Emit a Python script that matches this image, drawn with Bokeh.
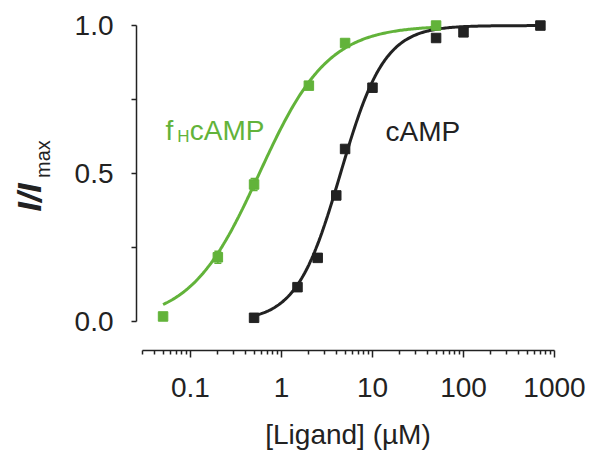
import numpy as np
from bokeh.plotting import figure
from bokeh.layouts import row
from bokeh.models import FixedTicker, Label, Range1d, ColumnDataSource, Whisker, TeeHead
from bokeh.core.properties import value
from bokeh.embed import file_html
from bokeh.resources import INLINE

# ---- data ----
fh_x = [0.05, 0.2, 0.5, 2, 5, 50]
fh_y = [0.017, 0.217, 0.463, 0.797, 0.941, 1.0]
fh_err = [0.0, 0.02, 0.02, 0.01, 0.01, 0.0]
camp_x = [0.5, 1.5, 2.5, 4, 5, 10, 50, 100, 700]
camp_y = [0.0125, 0.116, 0.215, 0.426, 0.583, 0.79, 0.958, 0.977, 1.0]

# Hill-fit parameters (EC50 in uM, Hill coefficient)
fh_ec50, fh_hill = 0.57, 1.15
camp_ec50, camp_hill = 4.45, 1.8

x_ticks = [0.1, 1, 10, 100, 1000]
x_tick_labels = ["0.1", "1", "10", "100", "1000"]
y_ticks = [0.0, 0.5, 1.0]
y_tick_labels = ["0.0", "0.5", "1.0"]
y_minor = [0.25, 0.75]

GREEN = "#62b33a"
DARK = "#222222"
FONT = "Liberation Sans"
W, H = 597, 455
LEFT_W = 60


def hill(x, ec50, n):
    x = np.asarray(x, dtype=float)
    return 1.0 / (1.0 + (ec50 / x) ** n)


p = figure(width=W - LEFT_W, height=H, x_axis_type="log",
           x_range=Range1d(0.02553, 1135), y_range=Range1d(-0.098, 1.034),
           output_backend="svg", toolbar_location=None,
           min_border_left=76, min_border_right=38,
           min_border_top=15, min_border_bottom=105)
p.outline_line_color = None
p.grid.visible = False

# fitted curves
fx = np.logspace(np.log10(fh_x[0]), np.log10(fh_x[-1]), 200)
p.line(fx, hill(fx, fh_ec50, fh_hill), line_color=GREEN, line_width=3)
cx = np.logspace(np.log10(camp_x[0]), np.log10(camp_x[-1]), 200)
p.line(cx, hill(cx, camp_ec50, camp_hill), line_color=DARK, line_width=3)

# error bars
fh_up = [y + e for y, e in zip(fh_y, fh_err)]
fh_lo = [y - e for y, e in zip(fh_y, fh_err)]
src = ColumnDataSource(dict(base=fh_x, upper=fh_up, lower=fh_lo))
p.add_layout(Whisker(source=src, base="base", upper="upper", lower="lower",
                     line_color=GREEN, line_width=1.5,
                     upper_head=TeeHead(size=7, line_color=GREEN, line_width=1.5),
                     lower_head=TeeHead(size=7, line_color=GREEN, line_width=1.5)))

# markers
p.scatter(fh_x, fh_y, marker="square", size=9.5, fill_color=GREEN, line_color=GREEN)
p.scatter(camp_x, camp_y, marker="square", size=9.5, fill_color=DARK, line_color=DARK)

# axes common style
for a in (p.xaxis[0], p.yaxis[0]):
    a.axis_line_color = DARK
    a.major_tick_line_color = DARK
    a.minor_tick_line_color = DARK
    a.axis_line_width = 1.5
    a.major_tick_line_width = 1.5
    a.minor_tick_line_width = 1.5
    a.major_tick_in = 0
    a.minor_tick_in = 0
    a.major_label_text_font = FONT
    a.major_label_text_font_size = "28px"
    a.major_label_text_color = DARK

# x axis
xa = p.xaxis[0]
xa.ticker = FixedTicker(ticks=x_ticks,
                        minor_ticks=[m * 10.0 ** e for e in range(-2, 3)
                                     for m in range(2, 10)
                                     if 0.029 < m * 10.0 ** e < 1000])
xa.major_label_overrides = {t: l for t, l in zip(x_ticks, x_tick_labels)}
xa.bounds = (0.03, 1000)
xa.major_tick_out = 7
xa.minor_tick_out = 4
xa.major_label_standoff = 20
xa.axis_label = "[Ligand] (µM)"
xa.axis_label_text_font = FONT
xa.axis_label_text_font_size = "28px"
xa.axis_label_text_font_style = "normal"
xa.axis_label_text_color = DARK
xa.axis_label_standoff = 19

# y axis
ya = p.yaxis[0]
ya.ticker = FixedTicker(ticks=y_ticks, minor_ticks=y_minor)
ya.major_label_overrides = {t: l for t, l in zip(y_ticks, y_tick_labels)}
ya.bounds = (0, 1)
ya.major_tick_out = 5
ya.minor_tick_out = 5
ya.major_label_standoff = 18

# series labels (inside the plot area)
p.add_layout(Label(x=0.0531, y=0.644, text="f", text_baseline="alphabetic",
                   text_font=FONT, text_font_size="28px", text_color=GREEN))
p.add_layout(Label(x=0.0714, y=0.625, text="H", text_baseline="alphabetic",
                   text_font=FONT, text_font_size="17px", text_color=GREEN))
p.add_layout(Label(x=0.0982, y=0.644, text="cAMP", text_baseline="alphabetic",
                   text_font=FONT, text_font_size="28px", text_color=GREEN))
p.add_layout(Label(x=13.9, y=0.642, text="cAMP", text_baseline="alphabetic",
                   text_font=FONT, text_font_size="28px", text_color=DARK))

# y-axis title panel (rotated I/I with subscript max)
lp = figure(width=LEFT_W, height=H, x_range=Range1d(0, LEFT_W), y_range=Range1d(H, 0),
            output_backend="svg", toolbar_location=None,
            x_axis_location=None, y_axis_location=None,
            min_border=0)
lp.outline_line_color = None
lp.grid.visible = False
lp.text(x=[28], y=[247], text=["I/I"], angle=np.pi / 2,
        text_align="center", text_baseline="middle",
        text_font=value(FONT), text_font_style="bold italic",
        text_font_size="34px", text_color=DARK)
lp.text(x=[42], y=[195], text=["max"], angle=np.pi / 2,
        text_align="center", text_baseline="middle",
        text_font=value(FONT), text_font_size="20px", text_color=DARK)

layout = row(lp, p, spacing=0)
open("out.html", "w").write(file_html(layout, INLINE))
